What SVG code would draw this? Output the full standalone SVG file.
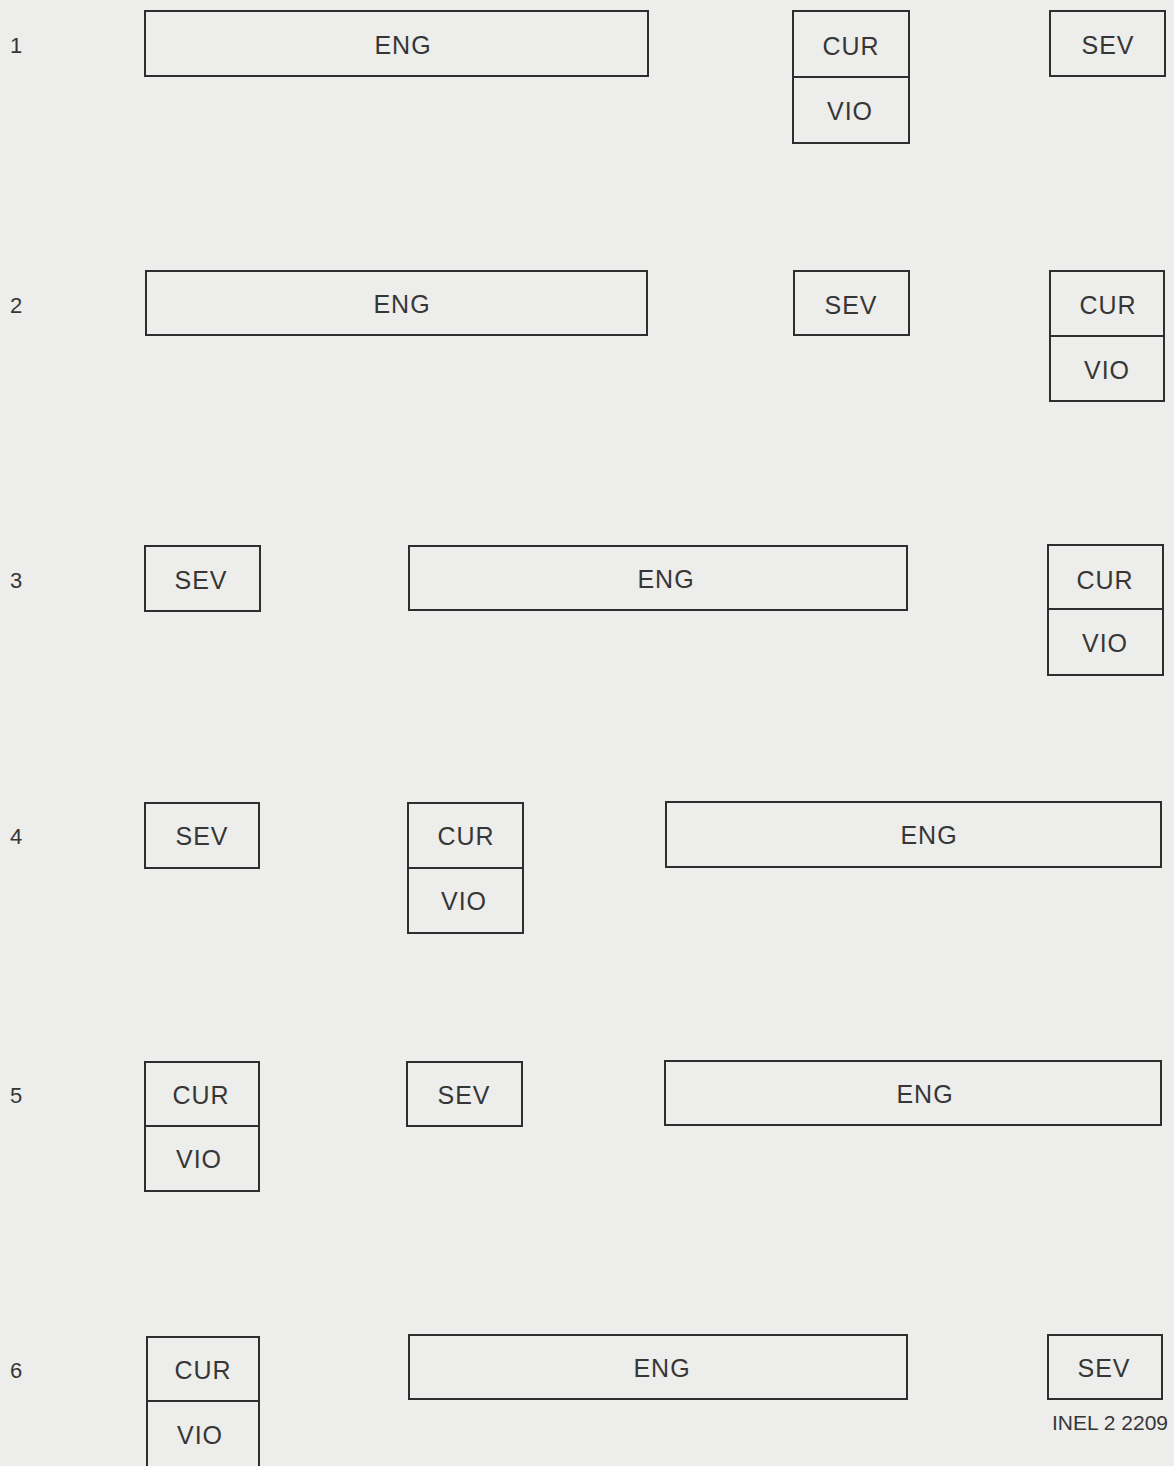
<svg xmlns="http://www.w3.org/2000/svg" width="1174" height="1466" viewBox="0 0 1174 1466">
<style>
.b{fill:none;stroke:#2e2e2e;stroke-width:2}
.t{font-family:"Liberation Sans",Arial,sans-serif;font-size:25px;letter-spacing:1px;fill:#363636;text-anchor:middle;dominant-baseline:central}
.n{font-family:"Liberation Sans",Arial,sans-serif;font-size:22px;fill:#363636;dominant-baseline:central}
.s{font-family:"Liberation Sans",Arial,sans-serif;font-size:21px;fill:#363636;text-anchor:end;dominant-baseline:central}
</style>
<rect width="1174" height="1466" fill="#ededeb"/>
<g id="labels">
<text class="n" x="10" y="45">1</text>
<text class="n" x="10" y="305">2</text>
<text class="n" x="10" y="580">3</text>
<text class="n" x="10" y="836">4</text>
<text class="n" x="10" y="1095">5</text>
<text class="n" x="10" y="1370">6</text>
<text class="s" x="1168" y="1422">INEL 2 2209</text>
</g>
<g id="connectors"></g>
<g id="r1-eng"><rect class="b" x="145" y="11" width="503" height="65"/><text class="t" x="403" y="45">ENG</text></g>
<g id="r1-curvio"><rect class="b" x="793" y="11" width="116" height="132"/><line class="b" x1="793" y1="77" x2="909" y2="77"/><text class="t" x="851" y="46">CUR</text><text class="t" x="850" y="111">VIO</text></g>
<g id="r1-sev"><rect class="b" x="1050" y="11" width="115" height="65"/><text class="t" x="1108" y="45">SEV</text></g>

<g id="r2-eng"><rect class="b" x="146" y="271" width="501" height="64"/><text class="t" x="402" y="304">ENG</text></g>
<g id="r2-sev"><rect class="b" x="794" y="271" width="115" height="64"/><text class="t" x="851" y="305">SEV</text></g>
<g id="r2-curvio"><rect class="b" x="1050" y="271" width="114" height="130"/><line class="b" x1="1050" y1="336" x2="1164" y2="336"/><text class="t" x="1108" y="305">CUR</text><text class="t" x="1107" y="370">VIO</text></g>

<g id="r3-sev"><rect class="b" x="145" y="546" width="115" height="65"/><text class="t" x="201" y="580">SEV</text></g>
<g id="r3-eng"><rect class="b" x="409" y="546" width="498" height="64"/><text class="t" x="666" y="579">ENG</text></g>
<g id="r3-curvio"><rect class="b" x="1048" y="545" width="115" height="130"/><line class="b" x1="1048" y1="609" x2="1163" y2="609"/><text class="t" x="1105" y="580">CUR</text><text class="t" x="1105" y="643">VIO</text></g>

<g id="r4-sev"><rect class="b" x="145" y="803" width="114" height="65"/><text class="t" x="202" y="836">SEV</text></g>
<g id="r4-curvio"><rect class="b" x="408" y="803" width="115" height="130"/><line class="b" x1="408" y1="868" x2="523" y2="868"/><text class="t" x="466" y="836">CUR</text><text class="t" x="464" y="901">VIO</text></g>
<g id="r4-eng"><rect class="b" x="666" y="802" width="495" height="65"/><text class="t" x="929" y="835">ENG</text></g>

<g id="r5-curvio"><rect class="b" x="145" y="1062" width="114" height="129"/><line class="b" x1="145" y1="1126" x2="259" y2="1126"/><text class="t" x="201" y="1095">CUR</text><text class="t" x="199" y="1159">VIO</text></g>
<g id="r5-sev"><rect class="b" x="407" y="1062" width="115" height="64"/><text class="t" x="464" y="1095">SEV</text></g>
<g id="r5-eng"><rect class="b" x="665" y="1061" width="496" height="64"/><text class="t" x="925" y="1094">ENG</text></g>

<g id="r6-curvio"><rect class="b" x="147" y="1337" width="112" height="132"/><line class="b" x1="147" y1="1401" x2="259" y2="1401"/><text class="t" x="203" y="1370">CUR</text><text class="t" x="200" y="1435">VIO</text></g>
<g id="r6-eng"><rect class="b" x="409" y="1335" width="498" height="64"/><text class="t" x="662" y="1368">ENG</text></g>
<g id="r6-sev"><rect class="b" x="1048" y="1335" width="114" height="64"/><text class="t" x="1104" y="1368">SEV</text></g>
</svg>
